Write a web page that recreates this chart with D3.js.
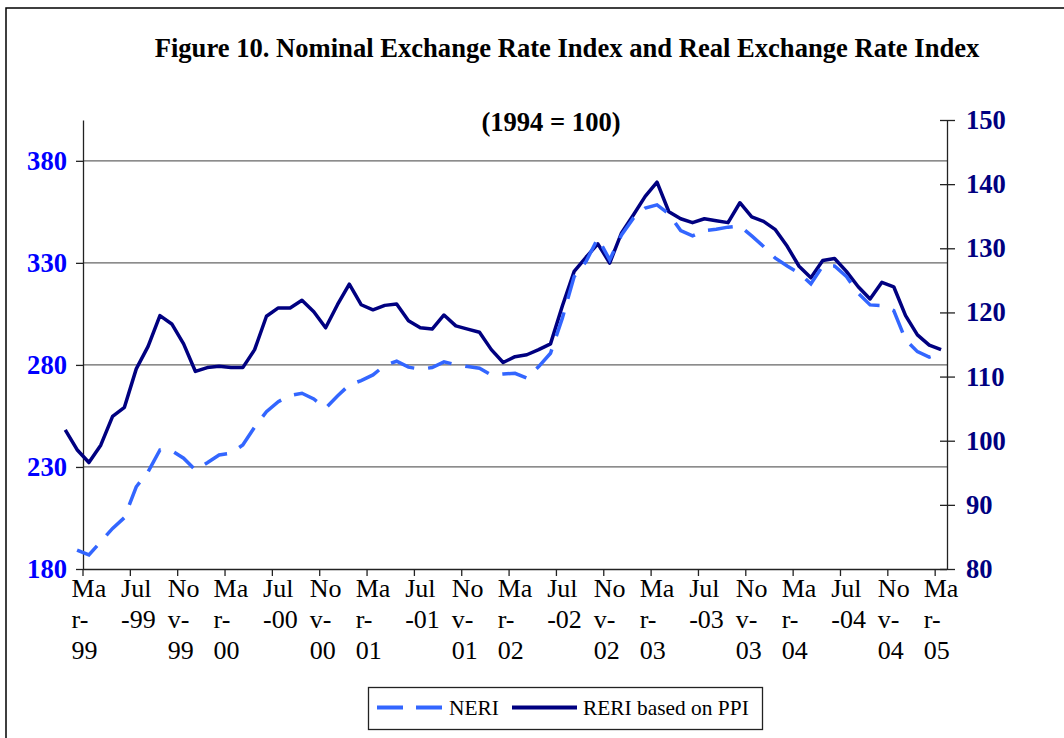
<!DOCTYPE html>
<html>
<head>
<meta charset="utf-8">
<script src="https://cdn.jsdelivr.net/npm/d3@7"></script>
<style>
  body { margin: 0; background: #fff; }
  svg { display: block; font-family: "Liberation Serif", "Times New Roman", serif; }
</style>
</head>
<body>
<div class="chart"></div>
<script>
// Monthly categories, Jan-99 .. Mar-05 (the first two months spill left of the axis)
const months = [
  "Jan-99","Feb-99","Mar-99","Apr-99","May-99","Jun-99","Jul-99","Aug-99","Sep-99","Oct-99","Nov-99","Dec-99",
  "Jan-00","Feb-00","Mar-00","Apr-00","May-00","Jun-00","Jul-00","Aug-00","Sep-00","Oct-00","Nov-00","Dec-00",
  "Jan-01","Feb-01","Mar-01","Apr-01","May-01","Jun-01","Jul-01","Aug-01","Sep-01","Oct-01","Nov-01","Dec-01",
  "Jan-02","Feb-02","Mar-02","Apr-02","May-02","Jun-02","Jul-02","Aug-02","Sep-02","Oct-02","Nov-02","Dec-02",
  "Jan-03","Feb-03","Mar-03","Apr-03","May-03","Jun-03","Jul-03","Aug-03","Sep-03","Oct-03","Nov-03","Dec-03",
  "Jan-04","Feb-04","Mar-04","Apr-04","May-04","Jun-04","Jul-04","Aug-04","Sep-04","Oct-04","Nov-04","Dec-04",
  "Jan-05","Feb-05","Mar-05"
];

// NERI, left axis
const neri = [
  null, 189.3, 186.9, 193.4, 199.9, 205.2, 220.3, 227.7, 238.3, 238.0, 234.3, 228.5,
  232.1, 235.9, 236.7, 240.8, 249.5, 257.1, 262.0, 265.0, 266.1, 263.3, 258.8, 264.8,
  270.2, 272.3, 275.1, 279.8, 281.8, 278.9, 277.9, 278.7, 281.5, 280.1, 279.2, 278.4,
  275.1, 275.6, 275.9, 273.5, 279.2, 285.7, 302.9, 323.3, 330.6, 342.1, 331.5, 343.7,
  351.9, 356.8, 358.4, 354.0, 345.8, 343.2, 345.8, 346.5, 347.5, 348.1, 343.2, 338.0,
  332.3, 328.5, 325.0, 319.7, 328.5, 328.5, 323.3, 315.1, 309.4, 309.1, 306.6, 292.3,
  286.5, 283.8, 285.7
];

// RERI based on PPI, right axis
const reri = [
  101.7, 98.6, 96.6, 99.3, 103.8, 105.2, 111.2, 114.7, 119.5, 118.2, 115.1, 110.8,
  111.4, 111.6, 111.4, 111.4, 114.2, 119.4, 120.7, 120.7, 121.9, 120.1, 117.6, 121.2,
  124.4, 121.2, 120.4, 121.1, 121.3, 118.7, 117.6, 117.4, 119.6, 117.9, 117.4, 116.9,
  114.2, 112.2, 113.1, 113.4, 114.2, 115.1, 121.0, 126.4, 128.6, 130.7, 127.7, 132.4,
  135.2, 138.1, 140.3, 135.7, 134.6, 134.0, 134.6, 134.3, 134.0, 137.1, 134.9, 134.2,
  132.9, 130.3, 127.2, 125.4, 128.1, 128.4, 126.4, 124.0, 122.1, 124.7, 124.0, 119.5,
  116.5, 114.9, 114.2
];

// category ticks every four months, with the wrapped labels as printed
const tickMonths = ["Mar-99","Jul-99","Nov-99","Mar-00","Jul-00","Nov-00","Mar-01","Jul-01","Nov-01",
  "Mar-02","Jul-02","Nov-02","Mar-03","Jul-03","Nov-03","Mar-04","Jul-04","Nov-04","Mar-05"];
const tickLabels = ["Ma\nr-\n99","Jul\n-99","No\nv-\n99","Ma\nr-\n00","Jul\n-00","No\nv-\n00","Ma\nr-\n01",
  "Jul\n-01","No\nv-\n01","Ma\nr-\n02","Jul\n-02","No\nv-\n02","Ma\nr-\n03","Jul\n-03","No\nv-\n03",
  "Ma\nr-\n04","Jul\n-04","No\nv-\n04","Ma\nr-\n05"];

const leftTicks = [180, 230, 280, 330, 380];
const rightTicks = [80, 90, 100, 110, 120, 130, 140, 150];

const W = 1064, H = 738;
const plot = { left: 83, right: 947, top: 120, bottom: 569 };

const svg = d3.select(".chart").append("svg")
    .attr("width", W)
    .attr("height", H);

// outer frame (runs off the right and bottom edges)
svg.append("rect")
    .attr("x", 6).attr("y", 8)
    .attr("width", W + 20).attr("height", H + 20)
    .attr("fill", "none")
    .attr("stroke", "#000")
    .attr("stroke-width", 1.5);

// titles
svg.append("text")
    .attr("x", 567).attr("y", 57)
    .attr("text-anchor", "middle")
    .style("font-size", "26.6px").style("font-weight", "bold")
    .text("Figure 10. Nominal Exchange Rate Index and Real Exchange Rate Index");
svg.append("text")
    .attr("x", 551).attr("y", 131)
    .attr("text-anchor", "middle")
    .style("font-size", "26.6px").style("font-weight", "bold")
    .text("(1994 = 100)");

// scales: Mar-99 band starts at the left axis, Mar-05 band ends at the right axis
const bw = (plot.right - plot.left) / (months.length - 2);
const x = d3.scaleBand()
    .domain(months)
    .range([plot.left - 2 * bw, plot.right])
    .padding(0);
const yL = d3.scaleLinear().domain([180, 400]).range([plot.bottom, plot.top]);
const yR = d3.scaleLinear().domain([80, 150]).range([plot.bottom, plot.top]);

// gridlines
svg.append("g")
  .selectAll("line")
  .data(leftTicks.slice(1))
  .join("line")
    .attr("x1", plot.left).attr("x2", plot.right)
    .attr("y1", d => yL(d)).attr("y2", d => yL(d))
    .attr("stroke", "#666")
    .attr("stroke-width", 1.2);

// left axis
const gL = svg.append("g")
    .attr("transform", `translate(${plot.left},0)`)
    .call(d3.axisLeft(yL).tickValues(leftTicks).tickSizeInner(7).tickSizeOuter(0).tickPadding(9));
gL.selectAll("text")
    .attr("fill", "#0000FF")
    .style("font-size", "26.6px").style("font-weight", "bold")
    .style("font-family", "'Liberation Serif', 'Times New Roman', serif");

// right axis (ticks cross the line)
const gR = svg.append("g")
    .attr("transform", `translate(${plot.right},0)`)
    .call(d3.axisRight(yR).tickValues(rightTicks).tickSizeInner(8).tickSizeOuter(0).tickPadding(11));
gR.selectAll(".tick line").attr("x1", -7);
gR.selectAll("text")
    .attr("fill", "#000080")
    .style("font-size", "26.6px").style("font-weight", "bold")
    .style("font-family", "'Liberation Serif', 'Times New Roman', serif");

// bottom category axis
const gB = svg.append("g")
    .attr("transform", `translate(0,${plot.bottom})`)
    .call(d3.axisBottom(x).tickValues(tickMonths).tickSizeInner(7).tickSizeOuter(0).tickFormat(""));
gB.select(".domain").attr("d", `M${plot.left},0.5H${plot.right}`);
gB.selectAll(".tick line").attr("transform", `translate(${-bw / 2},0)`);
gB.selectAll(".tick").each(function(d, i) {
  const lines = tickLabels[i].split("\n");
  const t = d3.select(this).select("text")
      .attr("fill", "#000")
      .attr("y", 0).attr("dy", null)
      .attr("text-anchor", "start")
      .style("font-size", "26px")
      .style("font-family", "'Liberation Serif', 'Times New Roman', serif");
  const first = t.append("tspan").text(lines[0]);
  const w = first.node().getComputedTextLength();
  first.attr("x", -w / 2).attr("y", 28);
  lines.slice(1).forEach((s, k) => {
    t.append("tspan").attr("x", -w / 2).attr("y", 28 + 31 * (k + 1)).text(s);
  });
});

[gL, gR, gB].forEach(g => {
  g.selectAll(".domain, .tick line").attr("stroke", "#222").attr("stroke-width", 1.3);
});

// series
const cx = m => x(m) + bw / 2;
const lineL = d3.line().defined(d => d.v != null).x(d => cx(d.m)).y(d => yL(d.v));
const lineR = d3.line().defined(d => d.v != null).x(d => cx(d.m)).y(d => yR(d.v));

svg.append("path")
    .datum(months.map((m, i) => ({ m, v: reri[i] })))
    .attr("d", lineR)
    .attr("fill", "none")
    .attr("stroke", "#000080")
    .attr("stroke-width", 3.5)
    .attr("stroke-linejoin", "round");

svg.append("path")
    .datum(months.map((m, i) => ({ m, v: neri[i] })))
    .attr("d", lineL)
    .attr("fill", "none")
    .attr("stroke", "#3366FF")
    .attr("stroke-width", 3.5)
    .attr("stroke-dasharray", "25,14");

// legend
const lg = svg.append("g");
lg.append("rect")
    .attr("x", 368.5).attr("y", 687.5)
    .attr("width", 394).attr("height", 42)
    .attr("fill", "#fff")
    .attr("stroke", "#222")
    .attr("stroke-width", 1.3);
lg.append("line")
    .attr("x1", 377).attr("x2", 442).attr("y1", 707.5).attr("y2", 707.5)
    .attr("stroke", "#3366FF").attr("stroke-width", 4)
    .attr("stroke-dasharray", "26,13");
lg.append("text")
    .attr("x", 449).attr("y", 714.5)
    .style("font-size", "21.4px")
    .text("NERI");
lg.append("line")
    .attr("x1", 512).attr("x2", 577).attr("y1", 707.5).attr("y2", 707.5)
    .attr("stroke", "#000080").attr("stroke-width", 4);
lg.append("text")
    .attr("x", 583).attr("y", 714.5)
    .style("font-size", "21.4px")
    .text("RERI based on PPI");
</script>
</body>
</html>
